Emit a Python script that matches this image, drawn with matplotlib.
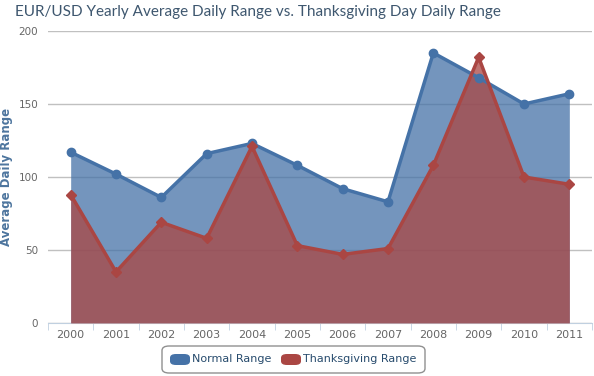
import matplotlib
matplotlib.use("Agg")
import matplotlib.pyplot as plt
from matplotlib.patches import FancyBboxPatch
import numpy as np

years = ["2000", "2001", "2002", "2003", "2004", "2005", "2006", "2007", "2008", "2009", "2010", "2011"]
normal = [117, 102, 86, 116, 123, 108, 92, 83, 185, 168, 150, 157]
thanks = [88, 35, 69, 58, 121, 53, 47, 51, 108, 182, 100, 95]
yticks = [0, 50, 100, 150, 200]

blue = "#4572A7"
red = "#AA4643"

fig = plt.figure(figsize=(5.94, 3.76), dpi=100)
ax = fig.add_axes([48/594, 53/376, 544/594, 292/376])
x = np.arange(len(years))

ax.fill_between(x, normal, 0, color=blue, alpha=0.75, lw=0, zorder=2)
ax.plot(x, normal, color=blue, lw=2.5, marker="o", ms=6, zorder=4)
ax.fill_between(x, thanks, 0, color=red, alpha=0.75, lw=0, zorder=3)
ax.plot(x, thanks, color=red, lw=2.5, marker="D", ms=5, zorder=5)

ax.set_xlim(-0.5, len(years) - 0.5)
ax.set_ylim(0, 200)
ax.set_yticks(yticks)
ax.yaxis.grid(True, color="#C0C0C0", lw=1)
ax.set_axisbelow(True)
for s in ["top", "right", "left"]:
    ax.spines[s].set_visible(False)
ax.spines["bottom"].set_color("#C0D0E0")
ax.set_xticks(x)
ax.set_xticklabels(years)
ax.set_xticks(np.arange(-0.5, len(years)), minor=True)
ax.tick_params(axis="x", which="major", length=0, pad=5, labelsize=8, labelcolor="#666666")
ax.tick_params(axis="x", which="minor", length=5, color="#C0D0E0")
ax.tick_params(axis="y", length=0, pad=7, labelsize=7.5, labelcolor="#666666")
ax.set_ylabel("Average Daily Range", fontsize=8.5, fontweight="bold", color="#4d759e")
ax.yaxis.set_label_coords(-35/544, 0.5)

fig.text(258/594, 1 - 12/376, "EUR/USD Yearly Average Daily Range vs. Thanksgiving Day Daily Range",
         ha="center", va="center", fontsize=11, color="#3E576F", family=["Lato", "DejaVu Sans"])

# legend
lb = FancyBboxPatch((162/594, 3/376), 263/594, 27/376, boxstyle="round,pad=0,rounding_size=0.012",
                    transform=fig.transFigure, fc="white", ec="#909090", lw=1)
fig.patches.append(lb)
for xs, tx, col, lab in [(170, 192, blue, "Normal Range"), (281, 303, red, "Thanksgiving Range")]:
    mk = FancyBboxPatch((xs/594, 11/376), 20/594, 11/376, boxstyle="round,pad=0,rounding_size=0.01",
                        transform=fig.transFigure, fc=col, ec="none")
    fig.patches.append(mk)
    fig.text(tx/594, 16.5/376, lab, ha="left", va="center", fontsize=8, color="#274b6d")

fig.savefig("out.png", dpi=100)
